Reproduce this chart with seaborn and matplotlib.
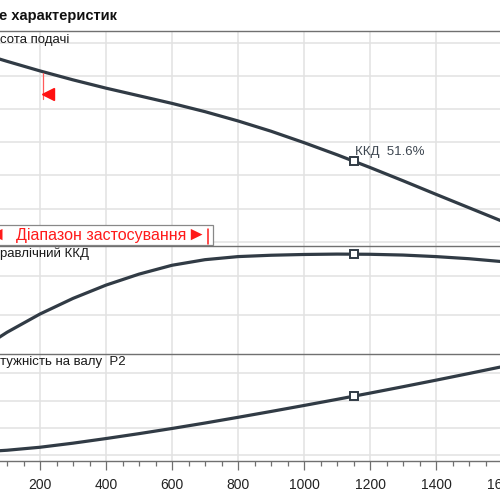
import numpy as np
import pandas as pd
import matplotlib
matplotlib.use('Agg')
import matplotlib.pyplot as plt
import seaborn as sns
from matplotlib.transforms import offset_copy, blended_transform_factory
from matplotlib.patches import Rectangle

# Pump curve readings (flow vs head / efficiency / shaft power)
flow = [0, 100, 200, 300, 400, 500, 600, 700, 800, 900, 1000, 1100, 1200, 1300, 1400, 1500, 1600]
head = [11.49, 10.89, 10.31, 9.77, 9.27, 8.81, 8.35, 7.85, 7.29, 6.67, 5.98, 5.25, 4.48, 3.68, 2.86, 2.05, 1.24]
efficiency = [0.0, 11.0, 20.5, 28.6, 35.5, 41.2, 45.8, 48.7, 50.3, 51.0, 51.4, 51.6, 51.5, 51.1, 50.3, 49.2, 47.7]
power = [0.42, 0.435, 0.457, 0.487, 0.521, 0.557, 0.595, 0.635, 0.677, 0.720, 0.764, 0.809, 0.855,
         0.902, 0.950, 0.999, 1.049]

# duty point
duty_flow = 1152
duty_head = 4.85
duty_eff = 51.6
duty_power = 0.833

# application range marks
range_start = 210
range_start_head = 10.2
range_end = 710

title = 'е характеристик'
label_head = 'сота подачі'
label_eff = 'равлічний ККД'
label_power = 'тужність на валу  P2'
range_text = 'Діапазон застосування'
duty_text = 'ККД  51.6%'

df = pd.DataFrame({'flow': flow, 'head': head, 'eff': efficiency, 'power': power})

sns.set_theme(style='white')
plt.rcParams['font.family'] = ['Liberation Sans', 'DejaVu Sans']

line_col = '#313b45'
grid_col = '#e2e2e2'
frame_col = '#707070'
red = '#ff1a1a'

fig = plt.figure(figsize=(5, 5), dpi=100)
W = 500.0
left = -26 / W
width = 594 / W
ax1 = fig.add_axes([left, 1 - 246 / W, width, 215 / W])
ax2 = fig.add_axes([left, 1 - 353.5 / W, width, 107.5 / W])
ax3 = fig.add_axes([left, 1 - 461 / W, width, 107.5 / W])

panels = [
    (ax1, 'head', duty_head, (-0.26, 12.72), [0, 2, 4, 6, 8, 10, 12]),
    (ax2, 'eff', duty_eff, (0, 55.8), [20, 40]),
    (ax3, 'power', duty_power, (0.356, 1.146), [0.4, 0.6, 0.8, 1.0]),
]

for ax, col, duty_val, ylim, yticks in panels:
    ax.set_xlim(0, 1800)
    ax.set_ylim(*ylim)
    ax.set_yticks(yticks)
    ax.set_xticks(np.arange(0, 1801, 200))
    ax.set_xticks(np.arange(0, 1801, 50), minor=True)
    ax.grid(True, which='major', color=grid_col, lw=1.1)
    ax.set_axisbelow(True)
    sns.lineplot(data=df, x='flow', y=col, ax=ax, color=line_col, lw=2.3, zorder=3)
    ax.plot([duty_flow], [duty_val], marker='s', ms=5.5, mfc='white', mec=line_col,
            mew=1.4, ls='none', zorder=4)
    ax.set_xlabel('')
    ax.set_ylabel('')
    ax.tick_params(left=False, labelleft=False)
    for s in ['left', 'right', 'bottom']:
        ax.spines[s].set_visible(False)
    ax.spines['top'].set_color(frame_col)
    ax.spines['top'].set_linewidth(1.0)

for ax in (ax1, ax2):
    ax.tick_params(bottom=False, labelbottom=False, which='both')

ax3.spines['bottom'].set_visible(True)
ax3.spines['bottom'].set_color(frame_col)
ax3.spines['bottom'].set_linewidth(1.0)
ax3.tick_params(axis='x', which='major', bottom=True, length=6.5, width=0.9,
                color=frame_col, labelsize=10, labelcolor='#222222', pad=5.5)
ax3.tick_params(axis='x', which='minor', bottom=True, length=3.6, width=0.9,
                color=frame_col)
ax3.set_xticklabels([str(v) for v in range(0, 1801, 200)])

# duty point label
ax1.annotate(duty_text, (duty_flow, duty_head), xytext=(0.5, 2.5), textcoords='offset points',
             fontsize=9.5, color='#3d4650', ha='left', va='bottom')

# start of application range on head curve
ax1.plot([range_start, range_start], [range_start_head, range_start_head - 1.6],
         color='#ff5a5a', lw=0.9, zorder=4)
tri = offset_copy(ax1.transData, fig=fig, x=5, y=0, units='dots')
ax1.plot([range_start], [range_start_head - 1.27], marker='<', ms=8, color='#ff1010',
         ls='none', transform=tri, zorder=4)

# application range box
bt = blended_transform_factory(ax1.transData, ax1.transAxes)
ax1.add_patch(Rectangle((-200, 0.005), range_end + 15 + 200, 0.093, transform=bt,
                        facecolor='white', edgecolor='#888888', lw=0.9, zorder=5,
                        clip_on=False))
for txt, dx, fs in [('►', -3, 14), (range_text, -22, 11.5), ('◄', -203, 14)]:
    ax1.text(range_end, 0.05, txt, transform=offset_copy(bt, fig=fig, x=dx, y=0, units='dots'),
             ha='right', va='center', color=red, fontsize=fs, family='Liberation Sans', zorder=6)
ax1.plot([range_end, range_end], [0.01, 0.08], transform=bt, color=red, lw=1.1,
         zorder=6, clip_on=False)

# titles / panel labels
fig.text(-1 / W, 1 - 16 / W, title, fontsize=10.5, weight='bold', va='center', ha='left',
         color='#111111')
fig.text(0, 1 - 40 / W, label_head, fontsize=9.5, va='center', ha='left', color='#1a1a1a')
fig.text(0, 1 - 254 / W, label_eff, fontsize=9.5, va='center', ha='left', color='#1a1a1a')
fig.text(0, 1 - 362 / W, label_power, fontsize=9.5, va='center', ha='left', color='#1a1a1a')

fig.savefig('out.png', dpi=100)
